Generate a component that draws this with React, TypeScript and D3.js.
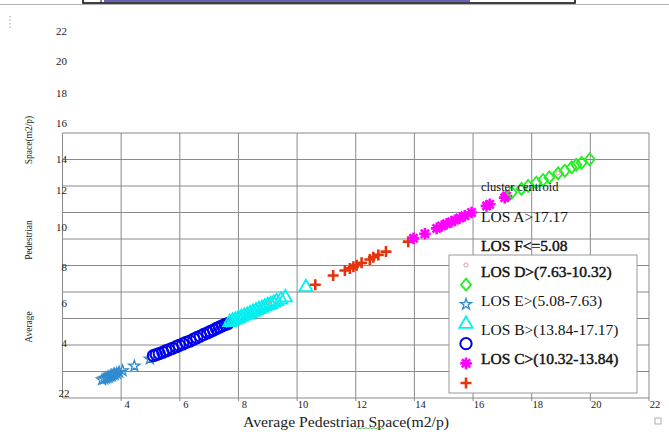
import React from 'react';
import * as d3 from 'd3';

// grid / tick values
const xTickLabels = [4, 6, 8, 10, 12, 14, 16, 18, 20, 22];
const yTickLabels = [22, 20, 18, 16, 14, 12, 10, 8, 6, 4, 2];

// clusters, [average space, average space]
const losEStars = [
  [3.35, 3.38], [3.42, 3.45], [3.48, 3.5], [3.53, 3.55], [3.58, 3.6], [3.63, 3.66],
  [3.68, 3.7], [3.73, 3.76], [3.78, 3.8], [3.85, 3.86], [3.93, 3.95], [4.05, 4.06],
  [4.45, 4.42], [4.98, 4.95],
];
const losFCircles = [
  [5.1, 5.2], [5.2, 5.27], [5.3, 5.35], [5.42, 5.45], [5.52, 5.55], [5.62, 5.63],
  [5.75, 5.75], [5.88, 5.87], [5.98, 5.97], [6.1, 6.08], [6.22, 6.2], [6.35, 6.3],
  [6.48, 6.45], [6.58, 6.55], [6.7, 6.67], [6.82, 6.8], [6.95, 6.92], [7.05, 7.03],
  [7.15, 7.13], [7.25, 7.25], [7.35, 7.35], [7.45, 7.45], [7.55, 7.55], [7.64, 7.62],
];
const losDTriangles = [
  [7.7, 7.72], [7.8, 7.8], [7.9, 7.9], [8.0, 8.0], [8.1, 8.1], [8.2, 8.2], [8.3, 8.28],
  [8.4, 8.38], [8.5, 8.48], [8.6, 8.6], [8.7, 8.7], [8.8, 8.78], [8.9, 8.9], [9.0, 9.0],
  [9.1, 9.08], [9.2, 9.18], [9.3, 9.3], [9.45, 9.42], [9.6, 9.58], [10.3, 10.35],
];
const losCPlus = [
  [10.62, 10.55], [11.23, 11.25], [11.63, 11.62], [11.8, 11.78], [11.92, 11.9],
  [12.03, 12.02], [12.2, 12.2], [12.48, 12.45], [12.6, 12.62], [12.77, 12.8],
  [13.03, 13.05], [13.79, 13.8],
];
const losBAsterisks = [
  [13.97, 14.05], [14.36, 14.4], [14.76, 14.8], [14.93, 14.98], [15.1, 15.15],
  [15.27, 15.3], [15.38, 15.42], [15.55, 15.58], [15.72, 15.75], [15.95, 16.0],
  [16.46, 16.5], [16.57, 16.62], [17.08, 17.12], [17.14, 17.25],
];
const losADiamonds = [
  [17.32, 17.5], [17.65, 17.78], [17.88, 18.0], [18.16, 18.25], [18.39, 18.45],
  [18.6, 18.65], [18.9, 18.95], [19.13, 19.15], [19.36, 19.4], [19.52, 19.6],
  [19.7, 19.75], [19.98, 20.02],
];
const centroids = [[9.05, 9.1], [18.9, 18.98]];

const legendNames = ['centroid', 'diamond', 'star', 'triangle', 'circle', 'asterisk', 'plus'];
const legendTexts = ['LOS D>(7.63-10.32)', 'LOS E>(5.08-7.63)', 'LOS B>(13.84-17.17)', 'LOS C>(10.32-13.84)'];
const noteTexts = ['cluster  centroid', 'LOS A>17.17', 'LOS F<=5.08'];

const W = 669;
const H = 432;
const serif = '"Liberation Serif", "Times New Roman", serif';
const grid = '#8a8a8a';

const colors: Record<string, string> = {
  centroid: '#e59a9a',
  diamond: '#22ee22',
  star: '#2f8bd0',
  triangle: '#00f0f0',
  circle: '#0000ee',
  asterisk: '#ff00ff',
  plus: '#e4340e',
};

const plusPath = (r: number) => `M${-r},0H${r}M0,${-r}V${r}`;
const asteriskPath = (r: number) => {
  const d = r * Math.SQRT1_2;
  return `M${-r},0H${r}M0,${-r}V${r}M${-d},${-d}L${d},${d}M${-d},${d}L${d},${-d}`;
};
const diamondPath = (w: number, h: number) => `M0,${-h}L${w},0L0,${h}L${-w},0Z`;

const shapes: Record<string, { d: string; width: number; fill: string }> = {
  centroid: { d: d3.symbol(d3.symbolCircle, 14)() as string, width: 1, fill: 'none' },
  diamond: { d: diamondPath(5, 6), width: 1.8, fill: 'none' },
  star: { d: d3.symbol(d3.symbolStar, 38)() as string, width: 1.3, fill: 'none' },
  triangle: { d: d3.symbol(d3.symbolTriangle, 75)() as string, width: 1.8, fill: 'none' },
  circle: { d: d3.symbol(d3.symbolCircle, 100)() as string, width: 2, fill: 'none' },
  asterisk: { d: asteriskPath(5.8), width: 2.6, fill: 'none' },
  plus: { d: plusPath(5.5), width: 2.6, fill: 'none' },
};

const Mark = ({ kind, cx, cy }: { kind: string; cx: number; cy: number }) => (
  <path
    d={shapes[kind].d}
    transform={`translate(${cx},${cy})`}
    fill={shapes[kind].fill}
    stroke={colors[kind]}
    strokeWidth={shapes[kind].width}
  />
);

export default function App() {
  const x = d3.scaleLinear().domain([2, 22]).range([62.5, 649]);
  const y = d3.scaleLinear().domain([2, 22]).range([398, 133]);
  // the tick labels of the y axis sit off the grid in the source figure
  const yLabelPos = d3.scaleLinear().domain(yTickLabels).range([31, 61, 93, 123, 159, 190, 227, 267, 303, 343, 393]);
  const legendRow = d3.scalePoint().domain(legendNames).range([265, 383]);
  const textRow = d3.scalePoint().domain(legendTexts).range([272, 359]);
  const noteRow = d3.scalePoint().domain(noteTexts).range([187, 246]);
  const gridTicks = x.ticks(10);
  const heavy = ['LOS D>(7.63-10.32)', 'LOS C>(10.32-13.84)', 'LOS F<=5.08'];

  const series: [string, number[][]][] = [
    ['star', losEStars],
    ['circle', losFCircles],
    ['triangle', losDTriangles],
    ['plus', losCPlus],
    ['asterisk', losBAsterisks],
    ['diamond', losADiamonds],
    ['centroid', centroids],
  ];

  return (
    <svg width={W} height={H} style={{ position: 'absolute', left: 0, top: 0, background: '#fff' }} fontFamily={serif}>
      {/* page decoration at the top */}
      <line x1={0} x2={W} y1={4.5} y2={4.5} stroke="#b0b0b0" strokeWidth={1.2} />
      <rect x={83} y={-4} width={492} height={7} fill="#fff" stroke="#111" strokeWidth={1.6} />
      <line x1={104} x2={470} y1={1} y2={1} stroke="#3030a0" strokeWidth={1.5} />
      <line x1={101} x2={101} y1={-2} y2={3} stroke="#111" strokeWidth={1} />
      <line x1={10} x2={10} y1={16} y2={29} stroke="#999" strokeDasharray="1.5,2" />

      {/* grid */}
      {gridTicks.map((t) => (
        <line key={'v' + t} x1={x(t)} x2={x(t)} y1={y(22)} y2={y(2) + (t > 2 ? 3 : 0)} stroke={grid} strokeWidth={1} />
      ))}
      {gridTicks.map((t) => (
        <line key={'h' + t} x1={x(2)} x2={x(22)} y1={y(t)} y2={y(t)} stroke={grid} strokeWidth={1} />
      ))}

      {/* y tick labels */}
      {yTickLabels.map((t) => (
        <text key={'yl' + t} x={t === 2 ? 64 : 67} y={yLabelPos(t)} dy="0.35em" textAnchor="end" fontSize={11} fill="#222">
          {t}
        </text>
      ))}
      <text x={64} y={yLabelPos(2)} dy="0.35em" fontSize={11} fill="#222">2</text>

      {/* x tick labels */}
      {xTickLabels.map((t) => (
        <text key={'xl' + t} x={x(t) + 6} y={404} dy="0.35em" textAnchor="middle" fontSize={10.5} fill="#222">
          {t}
        </text>
      ))}

      {/* axis titles */}
      {[
        ['Space(m2/p)', 140],
        ['Pedestrian', 240],
        ['Average', 327],
      ].map(([s, cy]) => (
        <text key={s as string} transform={`translate(29,${cy}) rotate(-90)`} dy="0.35em" textAnchor="middle" fontSize={9.5} fill="#222">
          {s}
        </text>
      ))}
      <text x={346} y={422} dy="0.35em" textAnchor="middle" fontSize={15} fill="#222" textLength={206} lengthAdjust="spacingAndGlyphs">
        Average Pedestrian Space(m2/p)
      </text>
      <path d="M356,429l2,-1.5l2,1.5l2,-1.5l2,1.5l2,-1.5l2,1.5l2,-1.5l2,1.5l2,-1.5l2,1.5l2,-1.5l2,1.5l2,-1.5l2,1.5" fill="none" stroke="#3a3" strokeWidth={0.8} />
      <rect x={655} y={418} width={6} height={6} fill="none" stroke="#999" strokeWidth={0.8} />

      {/* points */}
      {series.map(([kind, pts]) =>
        pts.map((p, i) => <Mark key={kind + i} kind={kind} cx={x(p[0])} cy={y(p[1])} />)
      )}

      {/* notes above legend */}
      {noteTexts.map((s, i) => (
        <text
          key={s}
          x={481}
          y={noteRow(s)}
          dy="0.35em"
          fontSize={i === 0 ? 12.5 : 15.5}
          fill="#111"
          stroke={heavy.includes(s) ? '#111' : 'none'}
          strokeWidth={0.45}
        >
          {s}
        </text>
      ))}

      {/* legend */}
      <rect x={449} y={255} width={188} height={138} fill="#fff" stroke="#999" strokeWidth={1} />
      {legendNames.map((n) => (
        <Mark key={'lg' + n} kind={n} cx={466} cy={legendRow(n) as number} />
      ))}
      {legendTexts.map((s) => (
        <text
          key={s}
          x={481}
          y={textRow(s)}
          dy="0.35em"
          fontSize={15.5}
          fill="#111"
          stroke={heavy.includes(s) ? '#111' : 'none'}
          strokeWidth={0.45}
        >
          {s}
        </text>
      ))}
    </svg>
  );
}
